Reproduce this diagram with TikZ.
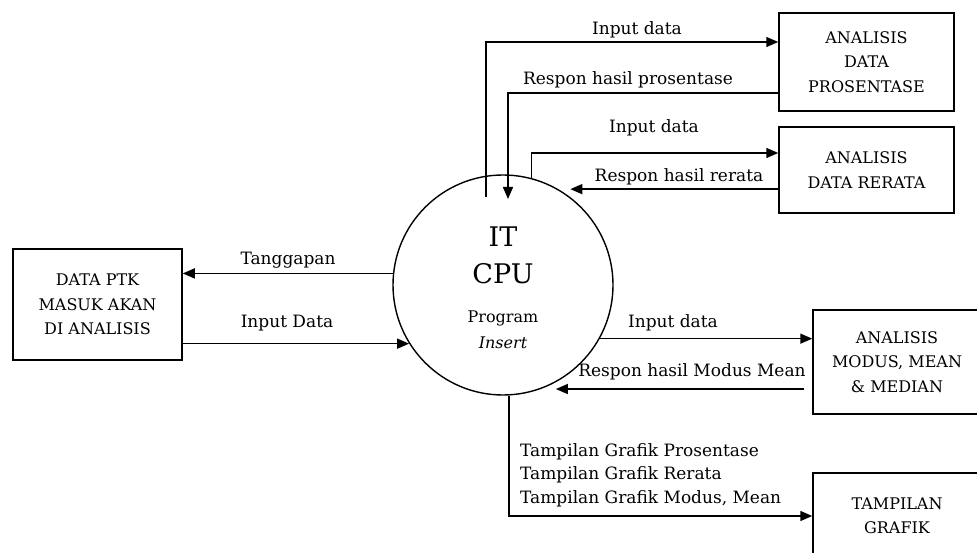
\documentclass[tikz,border=0pt]{standalone}
\usepackage{fontspec}
\setmainfont{DejaVu Serif}
\usetikzlibrary{arrows.meta,calc}

\begin{document}
\begin{tikzpicture}[x=1pt,y=-1pt]
\tikzset{
	entity box/.style = {rectangle, draw, line width=1.5pt, align=center, inner sep=0, font=\fontsize{16}{24.5}\selectfont},
	process/.style = {circle, draw, line width=1.4pt, minimum size=220pt, inner sep=0},
	flow/.style = {line width=1.5pt, -{Triangle[length=12pt,width=10pt]}},
	flow label/.style = {inner sep=0, font=\fontsize{17}{23.5}\selectfont},
}
\useasboundingbox (0,0) rectangle (977,553);

% process and external entities
\node(cpu)[process] at (503,285) {};
\node(it) at (503,237) {\fontsize{27}{30}\selectfont IT};
\node(cpuname) at (503,274) {\fontsize{27}{30}\selectfont CPU};
\node(prog) at (503,318) {\fontsize{16}{18}\selectfont Program};
\node(ins) at (503,343) {\fontsize{16}{18}\selectfont\itshape Insert};

\node(ptk)[entity box, minimum width=169pt, minimum height=111pt] at (97.5,304.5) {DATA PTK\\MASUK AKAN\\DI ANALISIS};
\node(prosen)[entity box, minimum width=175pt, minimum height=98pt] at (866.5,62) {ANALISIS\\DATA\\PROSENTASE};
\node(rerata)[entity box, minimum width=175pt, minimum height=86pt] at (866.5,170) {ANALISIS\\DATA RERATA};
\node(modus)[entity box, minimum width=168pt, minimum height=104pt] at (897,362) {ANALISIS\\MODUS, MEAN\\\& MEDIAN};
\node(tampil)[entity box, minimum width=168pt, minimum height=86pt] at (897,516) {TAMPILAN\\GRAFIK};

% data flows
\coordinate(tapin) at (486,197);
\coordinate(tapout) at (508,199);
\draw[flow] (tapin) |- (prosen.west |- 0,42);
\draw[flow] (prosen.west |- 0,93) -| (tapout);
\draw[flow] (cpu.75) |- (rerata.west |- 0,153);
\draw[flow, shorten >=12pt] (rerata.west |- cpu.60) -- (cpu.60);
\draw[flow] (cpu.174) -- (ptk.east |- cpu.174);
\draw[flow] (ptk.east |- cpu.212) -- (cpu.212);
\draw[flow] (cpu.331) -- (modus.west |- cpu.331);
\draw[flow, shorten <=8pt, shorten >=15pt] (modus.west |- cpu.290) -- (cpu.290);
\draw[flow] (cpu.273) |- (tampil.west);

% flow labels
\node(l1)[flow label] at (637,30) {Input data};
\node(l2)[flow label] at (628,80) {Respon hasil prosentase};
\node(l3)[flow label] at (654,128) {Input data};
\node(l4)[flow label] at (679,177) {Respon hasil rerata};
\node(l5)[flow label] at (288,260) {Tanggapan};
\node(l6)[flow label] at (287,323) {Input Data};
\node(l7)[flow label] at (673,323) {Input data};
\node(l8)[flow label] at (692,372) {Respon hasil Modus Mean};
\node(l9)[flow label, align=left, anchor=west] at (520,475) {Tampilan Grafik Prosentase\\Tampilan Grafik Rerata\\Tampilan Grafik Modus, Mean};
\end{tikzpicture}
\end{document}
